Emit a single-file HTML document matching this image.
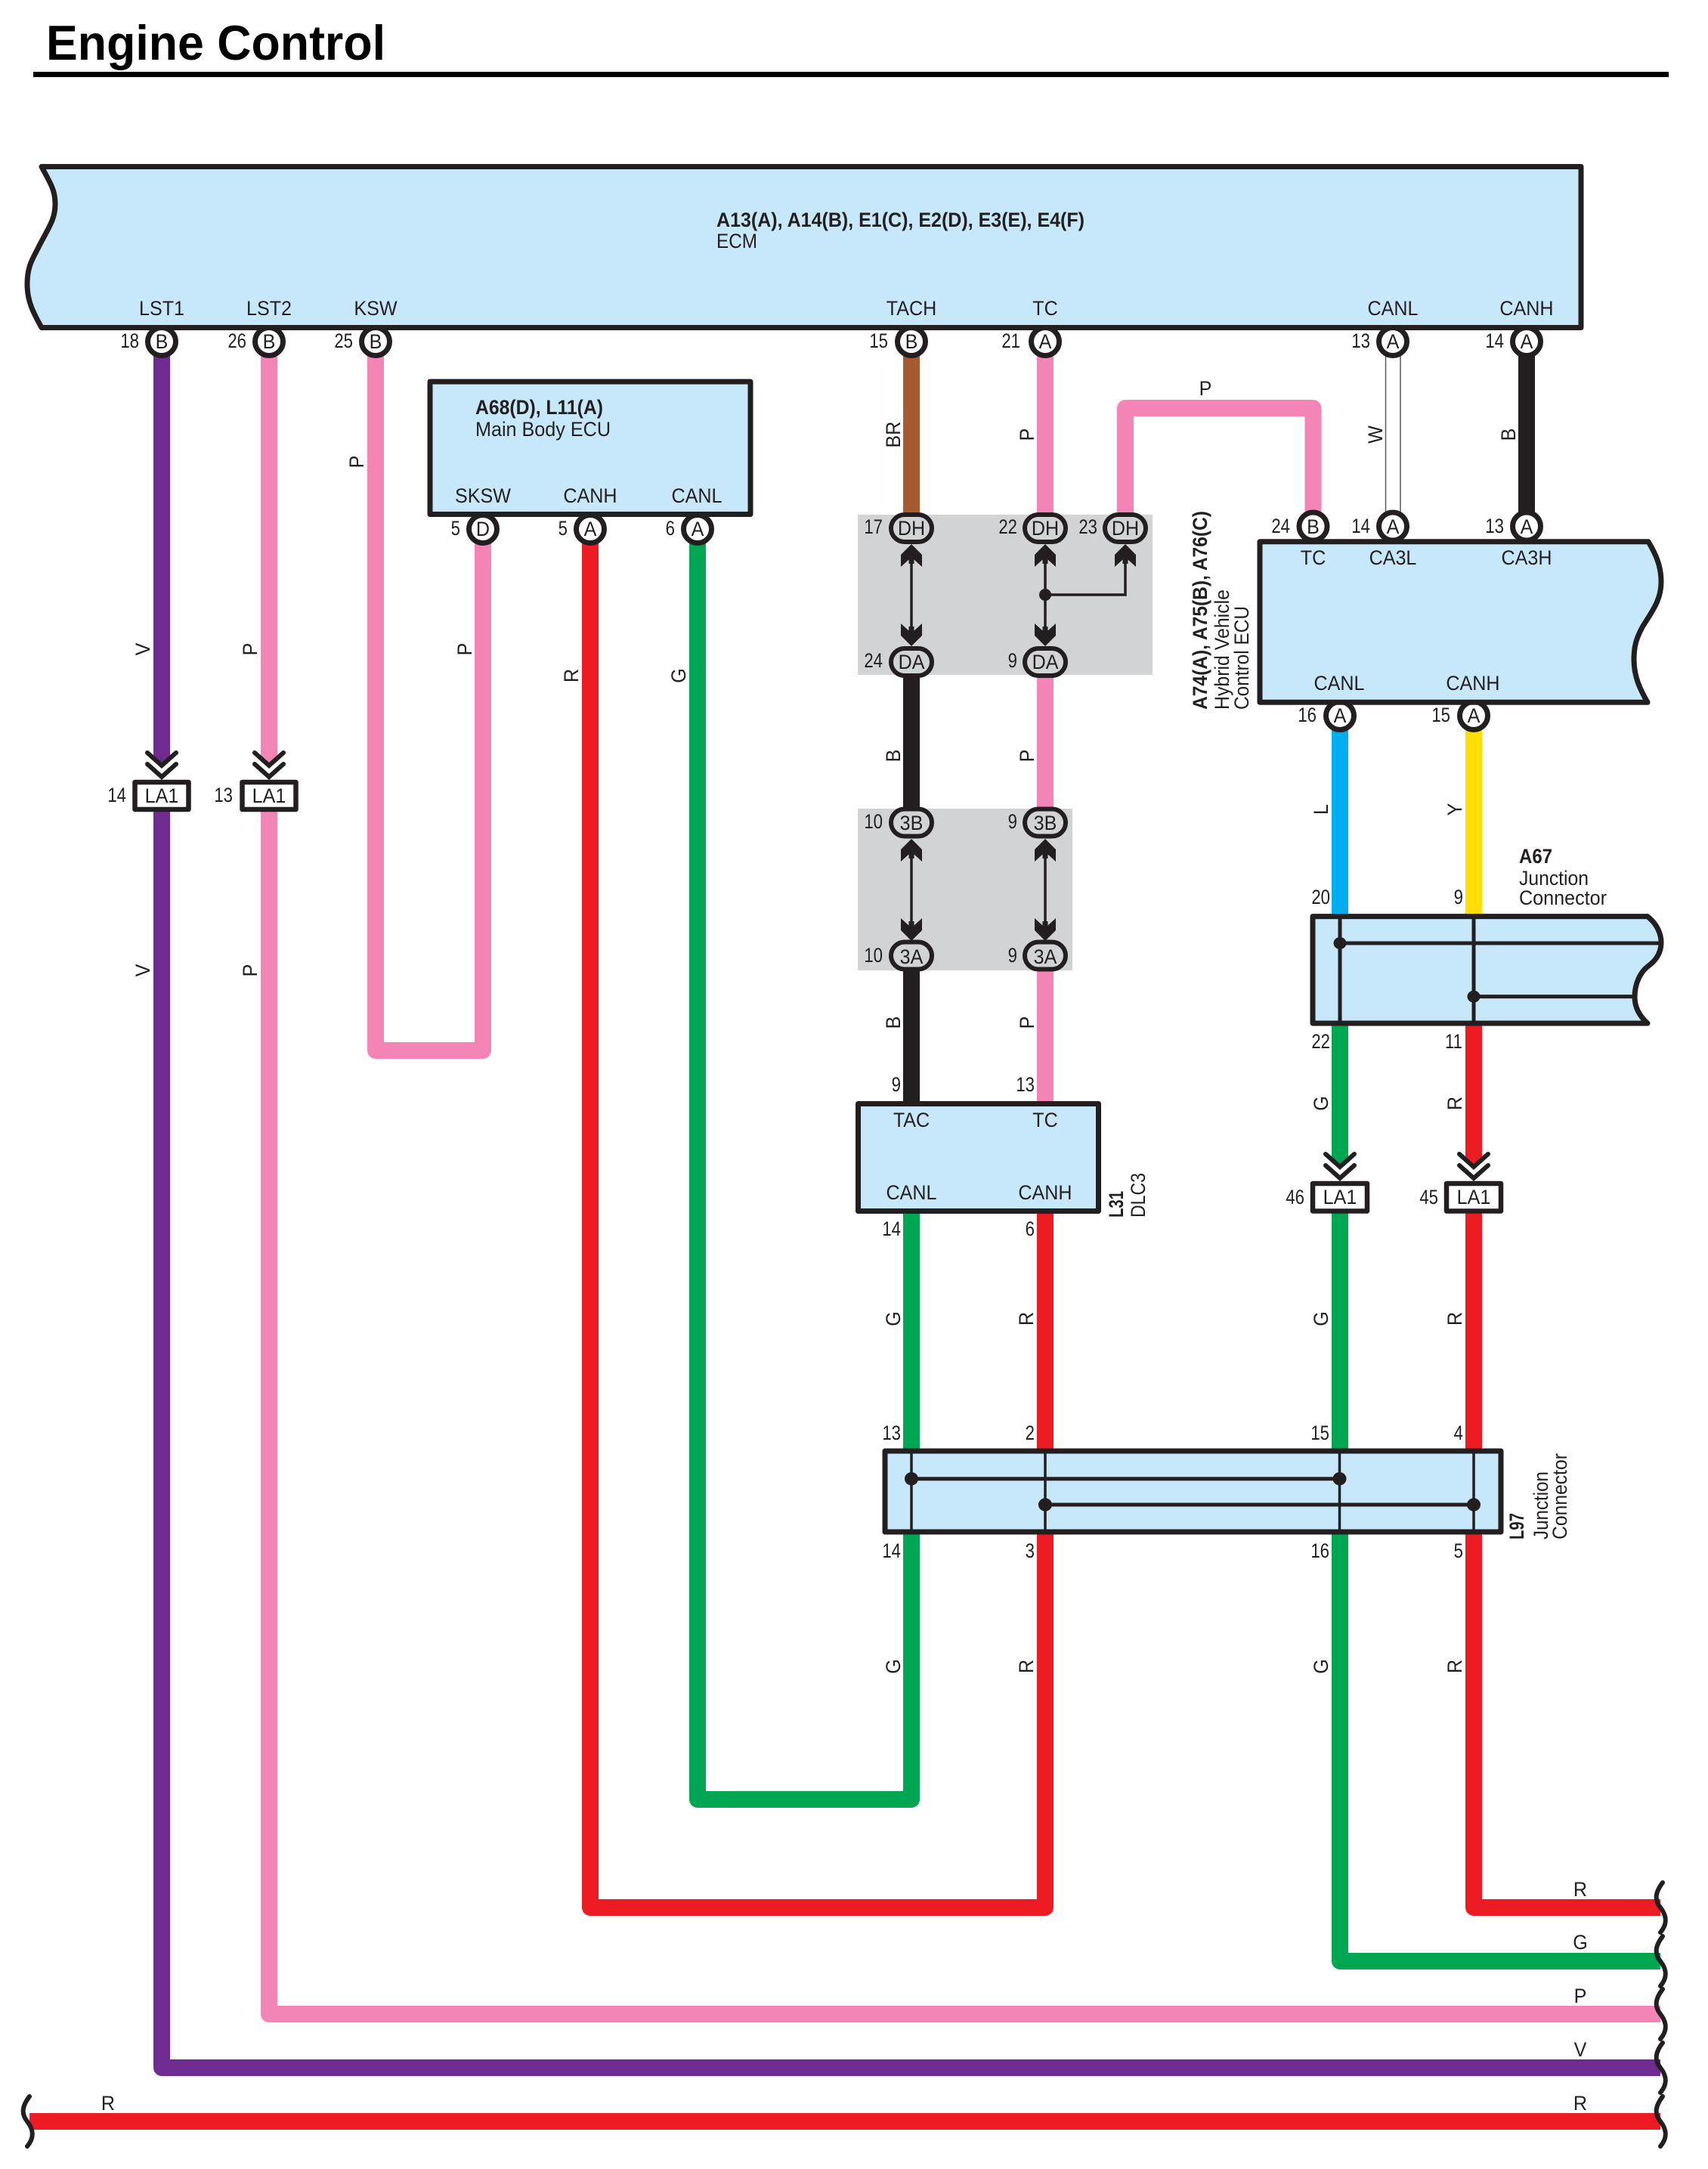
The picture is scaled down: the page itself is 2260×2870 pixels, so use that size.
<!DOCTYPE html>
<html><head><meta charset="utf-8"><title>Engine Control</title>
<style>
html,body{margin:0;padding:0;background:#fff}
svg{display:block}
text{font:27px "Liberation Sans",sans-serif;fill:#231f20;transform-box:fill-box}
.m{text-anchor:middle;transform:scaleX(.93);transform-origin:center}
.n{text-anchor:end;transform:scaleX(.82);transform-origin:right}
.b{font-weight:bold}
.w{fill:none;stroke-width:22;stroke-linejoin:round}
.box{fill:#c7e8fa;stroke:#231f20;stroke-width:7;stroke-linejoin:round}
.pin{fill:#fff;stroke:#231f20;stroke-width:7}
.pill{fill:#d1d3d4;stroke:#231f20;stroke-width:6}
.ln{fill:none;stroke:#231f20;stroke-width:4.5}
.thin{fill:none;stroke:#231f20;stroke-width:3.5;stroke-linecap:round}
.sq{fill:none;stroke:#231f20;stroke-width:6;stroke-linecap:round}
.la{fill:#fff;stroke:#231f20;stroke-width:6.5;stroke-linejoin:round}
</style></head>
<body>
<svg width="2260" height="2870" viewBox="0 0 2260 2870" xmlns="http://www.w3.org/2000/svg">
<defs>
<path id="au" d="M0 0L14 14V30L3.5 20.5V26H-3.5V20.5L-14 30V14Z" fill="#231f20"/>
<path id="ch" d="M-19 -36L0 -19L19 -36M-19 -21L0 -4L19 -21" fill="none" stroke="#231f20" stroke-width="6" stroke-linecap="round"/>
<path id="sq" d="M3 0C-7 13,-8 23,0 33C7 42,11 53,0 66" class="sq"/>
</defs>
<rect width="2260" height="2870" fill="#fff"/>

<!-- title -->
<text class="b" x="61" y="79" style="font-size:65px;fill:#000" textLength="449" lengthAdjust="spacingAndGlyphs">Engine Control</text>
<rect x="44" y="95" width="2164" height="7" fill="#000"/>

<!-- wires -->
<g class="w">
<path class="w" stroke="#6f2b90" d="M214 470V1002"/>
<path class="w" stroke="#6f2b90" d="M214 1070V2736H2197"/>
<path class="w" stroke="#f285b5" d="M356 470V1002"/>
<path class="w" stroke="#f285b5" d="M356 1070V2665H2197"/>
<path class="w" stroke="#f285b5" d="M497 470V1390H639V716"/>
<path class="w" stroke="#ed1c24" d="M781 716V2524H1383V2020"/>
<path class="w" stroke="#00a651" d="M923 716V2381H1206V2020"/>
<path class="w" stroke="#a65a32" d="M1206 470V684"/>
<path class="w" stroke="#f285b5" d="M1383 470V684"/>
<path class="w" stroke="#f285b5" d="M1489 684V540H1737.5V680"/>
<path class="w" stroke="#231f20" d="M2020 470V680"/>
<path class="w" stroke="#231f20" d="M1206 870V1270"/>
<path class="w" stroke="#231f20" d="M1206 1270V1460"/>
<path class="w" stroke="#f285b5" d="M1383 870V1460"/>
<path class="w" stroke="#00a651" d="M1206 1600V1925"/>
<path class="w" stroke="#ed1c24" d="M1383 1600V1925"/>
<path class="w" stroke="#00aeef" d="M1773 960V1215"/>
<path class="w" stroke="#ffde00" d="M1950 960V1215"/>
<path class="w" stroke="#00a651" d="M1773 1350V1531"/>
<path class="w" stroke="#ed1c24" d="M1950 1350V1531"/>
<path class="w" stroke="#00a651" d="M1773 1600V2595H2197"/>
<path class="w" stroke="#ed1c24" d="M1950 1600V2524H2197"/>
<path class="w" stroke="#ed1c24" d="M39 2807H2197"/>
</g>
<polygon points="203,1001 225,1001 214,1012" fill="#6f2b90"/>
<polygon points="345,1001 367,1001 356,1012" fill="#f285b5"/>
<polygon points="1762,1530 1784,1530 1773,1542" fill="#00a651"/>
<polygon points="1939,1530 1961,1530 1950,1542" fill="#ed1c24"/>
<path d="M1833.5 470V680M1853 470V680" fill="none" stroke="#58595b" stroke-width="1.5"/>

<!-- grey blocks -->
<rect x="1135" y="681" width="390" height="212" fill="#d1d3d4"/>
<rect x="1135" y="1070" width="284" height="214" fill="#d1d3d4"/>
<path class="thin" d="M1206 725V850M1383 725V850M1383 787H1489V725M1206 1115V1240M1383 1115V1240"/>
<circle cx="1383" cy="787" r="8" fill="#231f20"/>
<use href="#au" x="1206" y="720"/><use href="#au" x="1383" y="720"/><use href="#au" x="1489" y="720"/>
<use href="#au" transform="translate(1206 855) scale(1 -1)"/><use href="#au" transform="translate(1383 855) scale(1 -1)"/>
<use href="#au" x="1206" y="1110"/><use href="#au" x="1383" y="1110"/>
<use href="#au" transform="translate(1206 1245) scale(1 -1)"/><use href="#au" transform="translate(1383 1245) scale(1 -1)"/>

<!-- pills -->
<rect class="pill" x="1179" y="681" width="54" height="36" rx="18"/>
<rect class="pill" x="1356" y="681" width="54" height="36" rx="18"/>
<rect class="pill" x="1462" y="681" width="54" height="36" rx="18"/>
<rect class="pill" x="1179" y="858" width="54" height="36" rx="18"/>
<rect class="pill" x="1356" y="858" width="54" height="36" rx="18"/>
<rect class="pill" x="1179" y="1070.5" width="54" height="36" rx="18"/>
<rect class="pill" x="1356" y="1070.5" width="54" height="36" rx="18"/>
<rect class="pill" x="1179" y="1246.5" width="54" height="36" rx="18"/>
<rect class="pill" x="1356" y="1246.5" width="54" height="36" rx="18"/>

<!-- pins -->
<circle class="pin" cx="214" cy="452" r="18.5"/><circle class="pin" cx="356" cy="452" r="18.5"/><circle class="pin" cx="497" cy="452" r="18.5"/>
<circle class="pin" cx="1206" cy="452" r="18.5"/><circle class="pin" cx="1383" cy="452" r="18.5"/><circle class="pin" cx="1843" cy="452" r="18.5"/><circle class="pin" cx="2020" cy="452" r="18.5"/>
<circle class="pin" cx="639" cy="700" r="18.5"/><circle class="pin" cx="781" cy="700" r="18.5"/><circle class="pin" cx="923" cy="700" r="18.5"/>
<circle class="pin" cx="1737.5" cy="696.5" r="18.5"/><circle class="pin" cx="1843" cy="696.5" r="18.5"/><circle class="pin" cx="2020" cy="696.5" r="18.5"/>
<circle class="pin" cx="1773" cy="947" r="18.5"/><circle class="pin" cx="1950" cy="947" r="18.5"/>

<!-- boxes -->
<path class="box" d="M55 220.5H2092V433.5H55C45 415,36 400,36 376C36 350,45 340,52 325C65 300,73 290,73 270C73 250,65 240,55 220.5Z"/>
<rect class="box" x="569" y="505" width="424" height="175.5"/>
<path class="box" d="M1667 716.7H2181C2192 735,2198 750,2198 770C2198 795,2185 810,2173 830C2165 845,2162 855,2162 873C2162 895,2170 912,2180 929.3H1667Z"/>
<rect class="box" x="1135.5" y="1460.5" width="318" height="142"/>
<path class="box" d="M1737 1212.6H2180C2192 1222,2198 1235,2198 1247C2198 1262,2190 1272,2180 1279C2170 1287,2163 1302,2163 1319C2163 1333,2170 1345,2180 1354H1737Z"/>
<rect class="box" x="1171" y="1920" width="815" height="107"/>

<!-- internal lines -->
<path class="ln" style="stroke-width:5" d="M1773 1212V1354M1950 1212V1354M1773 1248H2197M1950 1318.6H2163"/>
<ellipse cx="1773" cy="1248" rx="8.5" ry="8" fill="#231f20"/><ellipse cx="1950" cy="1318.6" rx="8.5" ry="8" fill="#231f20"/>
<path class="ln" style="stroke-width:3.5" d="M1206 1920V2027M1383 1920V2027M1772.5 1920V2027M1950 1920V2027"/>
<path class="ln" style="stroke-width:5" d="M1206 1956.7H1772.5M1383 1991H1950"/>
<ellipse cx="1206" cy="1956.7" rx="9" ry="8.7" fill="#231f20"/><ellipse cx="1772.5" cy="1956.7" rx="9" ry="8.7" fill="#231f20"/>
<ellipse cx="1383" cy="1991" rx="9" ry="8.7" fill="#231f20"/><ellipse cx="1950" cy="1991" rx="9" ry="8.7" fill="#231f20"/>

<!-- LA1 connectors -->
<use href="#ch" x="214" y="1032"/><use href="#ch" x="356" y="1032"/><use href="#ch" x="1773" y="1563"/><use href="#ch" x="1950" y="1563"/>
<rect class="la" x="178.5" y="1035" width="71" height="36"/>
<rect class="la" x="320.5" y="1035" width="71" height="36"/>
<rect class="la" x="1737" y="1566" width="72" height="36.5"/>
<rect class="la" x="1914" y="1566" width="72" height="36.5"/>
<text class="m" x="214" y="1062">LA1</text><text class="m" x="356" y="1062">LA1</text>
<text class="m" x="1773" y="1593">LA1</text><text class="m" x="1950" y="1593">LA1</text>
<text class="n" x="167" y="1061">14</text><text class="n" x="308" y="1061">13</text>
<text class="n" x="1726" y="1593">46</text><text class="n" x="1903" y="1593">45</text>

<!-- squiggles -->
<use href="#sq" x="2197" y="2491"/><use href="#sq" x="2197" y="2562"/><use href="#sq" x="2197" y="2632"/><use href="#sq" x="2197" y="2703"/><use href="#sq" x="2197" y="2774"/>
<use href="#sq" x="36" y="2774"/>

<!-- ECM text -->
<text class="b" x="948" y="300" textLength="487" lengthAdjust="spacingAndGlyphs">A13(A), A14(B), E1(C), E2(D), E3(E), E4(F)</text>
<text x="948" y="328" textLength="54" lengthAdjust="spacingAndGlyphs">ECM</text>
<text class="m" x="214" y="417">LST1</text><text class="m" x="356" y="417">LST2</text><text class="m" x="497" y="417">KSW</text>
<text class="m" x="1206" y="417">TACH</text><text class="m" x="1383" y="417">TC</text><text class="m" x="1843" y="417">CANL</text><text class="m" x="2020" y="417">CANH</text>
<text class="n" x="184" y="460">18</text><text class="n" x="326" y="460">26</text><text class="n" x="467" y="460">25</text>
<text class="n" x="1175" y="460">15</text><text class="n" x="1350" y="460">21</text><text class="n" x="1813" y="460">13</text><text class="n" x="1990" y="460">14</text>
<text class="m" x="214" y="461">B</text><text class="m" x="356" y="461">B</text><text class="m" x="497" y="461">B</text>
<text class="m" x="1206" y="461">B</text><text class="m" x="1383" y="461">A</text><text class="m" x="1843" y="461">A</text><text class="m" x="2020" y="461">A</text>

<!-- Main body ECU text -->
<text class="b" x="629" y="548" textLength="169" lengthAdjust="spacingAndGlyphs">A68(D), L11(A)</text>
<text x="629" y="577" textLength="179" lengthAdjust="spacingAndGlyphs">Main Body ECU</text>
<text class="m" x="639" y="665">SKSW</text><text class="m" x="781" y="665">CANH</text><text class="m" x="922" y="665">CANL</text>
<text class="n" x="609" y="708">5</text><text class="n" x="751" y="708">5</text><text class="n" x="893" y="708">6</text>
<text class="m" x="639" y="709">D</text><text class="m" x="781" y="709">A</text><text class="m" x="923" y="709">A</text>

<!-- grey block text -->
<text class="n" x="1168" y="706">17</text><text class="n" x="1346" y="706">22</text><text class="n" x="1452" y="706">23</text>
<text class="m" x="1206" y="708">DH</text><text class="m" x="1383" y="708">DH</text><text class="m" x="1489" y="708">DH</text>
<text class="n" x="1168" y="883">24</text><text class="n" x="1346" y="883">9</text>
<text class="m" x="1206" y="885">DA</text><text class="m" x="1383" y="885">DA</text>
<text class="n" x="1168" y="1096">10</text><text class="n" x="1346" y="1096">9</text>
<text class="m" x="1206" y="1098">3B</text><text class="m" x="1383" y="1098">3B</text>
<text class="n" x="1168" y="1273">10</text><text class="n" x="1346" y="1273">9</text>
<text class="m" x="1206" y="1275">3A</text><text class="m" x="1383" y="1275">3A</text>

<!-- DLC3 text -->
<text class="n" x="1192" y="1444">9</text><text class="n" x="1369" y="1444">13</text>
<text class="m" x="1206" y="1491">TAC</text><text class="m" x="1383" y="1491">TC</text>
<text class="m" x="1206" y="1587">CANL</text><text class="m" x="1383" y="1587">CANH</text>
<text class="n" x="1192" y="1635">14</text><text class="n" x="1369" y="1635">6</text>
<g transform="translate(1486 1611) rotate(-90)"><text class="b" textLength="35" lengthAdjust="spacingAndGlyphs">L31</text></g>
<g transform="translate(1515 1611) rotate(-90)"><text textLength="59" lengthAdjust="spacingAndGlyphs">DLC3</text></g>

<!-- Hybrid ECU text -->
<g transform="translate(1597 939) rotate(-90)"><text class="b" textLength="263" lengthAdjust="spacingAndGlyphs">A74(A), A75(B), A76(C)</text></g>
<g transform="translate(1626 939) rotate(-90)"><text textLength="159" lengthAdjust="spacingAndGlyphs">Hybrid Vehicle</text></g>
<g transform="translate(1652 939) rotate(-90)"><text textLength="137" lengthAdjust="spacingAndGlyphs">Control ECU</text></g>
<text class="n" x="1707" y="705">24</text><text class="n" x="1813" y="705">14</text><text class="n" x="1990" y="705">13</text>
<text class="m" x="1737.5" y="706">B</text><text class="m" x="1843" y="706">A</text><text class="m" x="2020" y="706">A</text>
<text class="m" x="1737.5" y="747">TC</text><text class="m" x="1843" y="747">CA3L</text><text class="m" x="2020" y="747">CA3H</text>
<text class="m" x="1772" y="913">CANL</text><text class="m" x="1949" y="913">CANH</text>
<text class="n" x="1742" y="955">16</text><text class="n" x="1919" y="955">15</text>
<text class="m" x="1773" y="956">A</text><text class="m" x="1950" y="956">A</text>

<!-- A67 text -->
<text class="b" x="2010" y="1142" textLength="44" lengthAdjust="spacingAndGlyphs">A67</text>
<text x="2010" y="1171" textLength="92" lengthAdjust="spacingAndGlyphs">Junction</text>
<text x="2010" y="1197" textLength="116" lengthAdjust="spacingAndGlyphs">Connector</text>
<text class="n" x="1760" y="1196">20</text><text class="n" x="1936" y="1196">9</text>
<text class="n" x="1760" y="1387">22</text><text class="n" x="1935" y="1387">11</text>

<!-- L97 text -->
<text class="n" x="1192" y="1905">13</text><text class="n" x="1369" y="1905">2</text><text class="n" x="1759" y="1905">15</text><text class="n" x="1936" y="1905">4</text>
<text class="n" x="1192" y="2061">14</text><text class="n" x="1369" y="2061">3</text><text class="n" x="1759" y="2061">16</text><text class="n" x="1936" y="2061">5</text>
<g transform="translate(2016 2037) rotate(-90)"><text class="b" textLength="35" lengthAdjust="spacingAndGlyphs">L97</text></g>
<g transform="translate(2048 2037) rotate(-90)"><text textLength="90" lengthAdjust="spacingAndGlyphs">Junction</text></g>
<g transform="translate(2073 2037) rotate(-90)"><text textLength="114" lengthAdjust="spacingAndGlyphs">Connector</text></g>

<!-- rotated wire labels -->
<g transform="translate(198 859) rotate(-90)"><text class="m">V</text></g>
<g transform="translate(340 859) rotate(-90)"><text class="m">P</text></g>
<g transform="translate(198 1284) rotate(-90)"><text class="m">V</text></g>
<g transform="translate(340 1284) rotate(-90)"><text class="m">P</text></g>
<g transform="translate(481 611) rotate(-90)"><text class="m">P</text></g>
<g transform="translate(624 859) rotate(-90)"><text class="m">P</text></g>
<g transform="translate(765 894) rotate(-90)"><text class="m">R</text></g>
<g transform="translate(907 894) rotate(-90)"><text class="m">G</text></g>
<g transform="translate(1191 575) rotate(-90)"><text class="m">BR</text></g>
<g transform="translate(1368 575) rotate(-90)"><text class="m">P</text></g>
<g transform="translate(1829 575) rotate(-90)"><text class="m">W</text></g>
<g transform="translate(2005 575) rotate(-90)"><text class="m">B</text></g>
<g transform="translate(1191 1000) rotate(-90)"><text class="m">B</text></g>
<g transform="translate(1368 1000) rotate(-90)"><text class="m">P</text></g>
<g transform="translate(1191 1353) rotate(-90)"><text class="m">B</text></g>
<g transform="translate(1368 1353) rotate(-90)"><text class="m">P</text></g>
<g transform="translate(1757 1071) rotate(-90)"><text class="m">L</text></g>
<g transform="translate(1934 1071) rotate(-90)"><text class="m">Y</text></g>
<g transform="translate(1757 1460) rotate(-90)"><text class="m">G</text></g>
<g transform="translate(1934 1460) rotate(-90)"><text class="m">R</text></g>
<g transform="translate(1191 1745) rotate(-90)"><text class="m">G</text></g>
<g transform="translate(1367 1745) rotate(-90)"><text class="m">R</text></g>
<g transform="translate(1757 1745) rotate(-90)"><text class="m">G</text></g>
<g transform="translate(1934 1745) rotate(-90)"><text class="m">R</text></g>
<g transform="translate(1191 2205) rotate(-90)"><text class="m">G</text></g>
<g transform="translate(1367 2205) rotate(-90)"><text class="m">R</text></g>
<g transform="translate(1757 2205) rotate(-90)"><text class="m">G</text></g>
<g transform="translate(1934 2205) rotate(-90)"><text class="m">R</text></g>

<!-- horizontal wire labels -->
<text class="m" x="1595" y="523">P</text>
<text class="m" x="2091" y="2509">R</text>
<text class="m" x="2091" y="2579">G</text>
<text class="m" x="2091" y="2650">P</text>
<text class="m" x="2091" y="2721">V</text>
<text class="m" x="2091" y="2792">R</text>
<text class="m" x="143" y="2792">R</text>
</svg>
</body></html>
